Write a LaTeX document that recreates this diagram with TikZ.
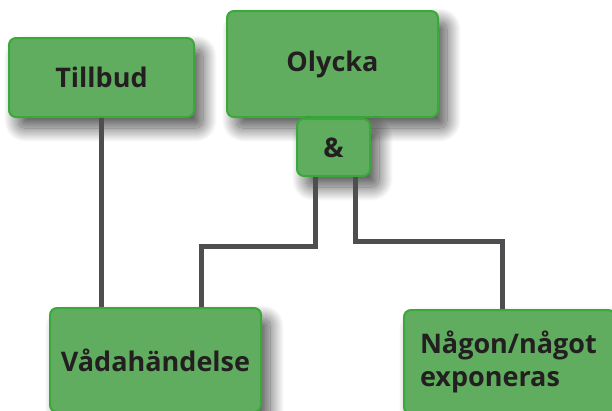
\documentclass[tikz,border=0pt]{standalone}
\usepackage{fontspec}
\setmainfont{Open Sans}
\usetikzlibrary{positioning,calc,shadows.blur}
\definecolor{boxGreen}{RGB}{96,173,96}
\definecolor{edgeGreen}{RGB}{58,168,58}
\definecolor{lineGrey}{RGB}{78,78,80}
\definecolor{textDark}{RGB}{35,31,32}
\tikzset{
	box/.style={
		draw=edgeGreen,
		fill=boxGreen,
		line width=2pt,
		rounded corners=7pt,
		minimum width=211pt,
		minimum height=104pt,
		align=center,
		text=textDark,
		font=\bfseries\fontsize{27}{33}\selectfont,
		blur shadow={shadow xshift=9pt, shadow yshift=-11pt, shadow blur radius=14pt, shadow blur steps=40, shadow opacity=70},
	},
	link/.style={
		line width=5pt,
		draw=lineGrey,
	}
}

\begin{document}
\begin{tikzpicture}[x=1pt,y=-1pt]
			\useasboundingbox (0,0) rectangle (612,410);
			\clip (0,0) rectangle (612,410);
			% --- Top row ---
			\node[box, minimum width=185pt, minimum height=79pt] (tillbud) at (101.5,77.5) {Tillbud};
			\node[box, minimum height=106pt] (olycka) at (332.5,64) {Olycka};
			\node[box, minimum width=73pt, minimum height=57pt, inner sep=0pt] (amp)
			 [below=0pt of olycka, xshift=1pt] {\&};
			
			% --- Bottom row ---
			\node[box] (vada) at (155.5,360) {Vådahändelse};
			\node[box, text width=179pt, inner xsep=16pt, align=left] (nagon) at (509.5,362) {Någon/något\\exponeras};
			
			% --- Links ---
			\draw[link] (tillbud.south) -- (tillbud.south |- vada.north);
			\draw[link] ([xshift=-18pt]amp.south) |- ($(amp.south)!0.5!(vada.north)+(0,4)$) -| ([xshift=46pt]vada.north);
			\draw[link] ([xshift=22pt]amp.south) |- ($(amp.south)!0.5!(nagon.north)+(0,-2)$) -| ([xshift=-7pt]nagon.north);
		\end{tikzpicture}
\end{document}
